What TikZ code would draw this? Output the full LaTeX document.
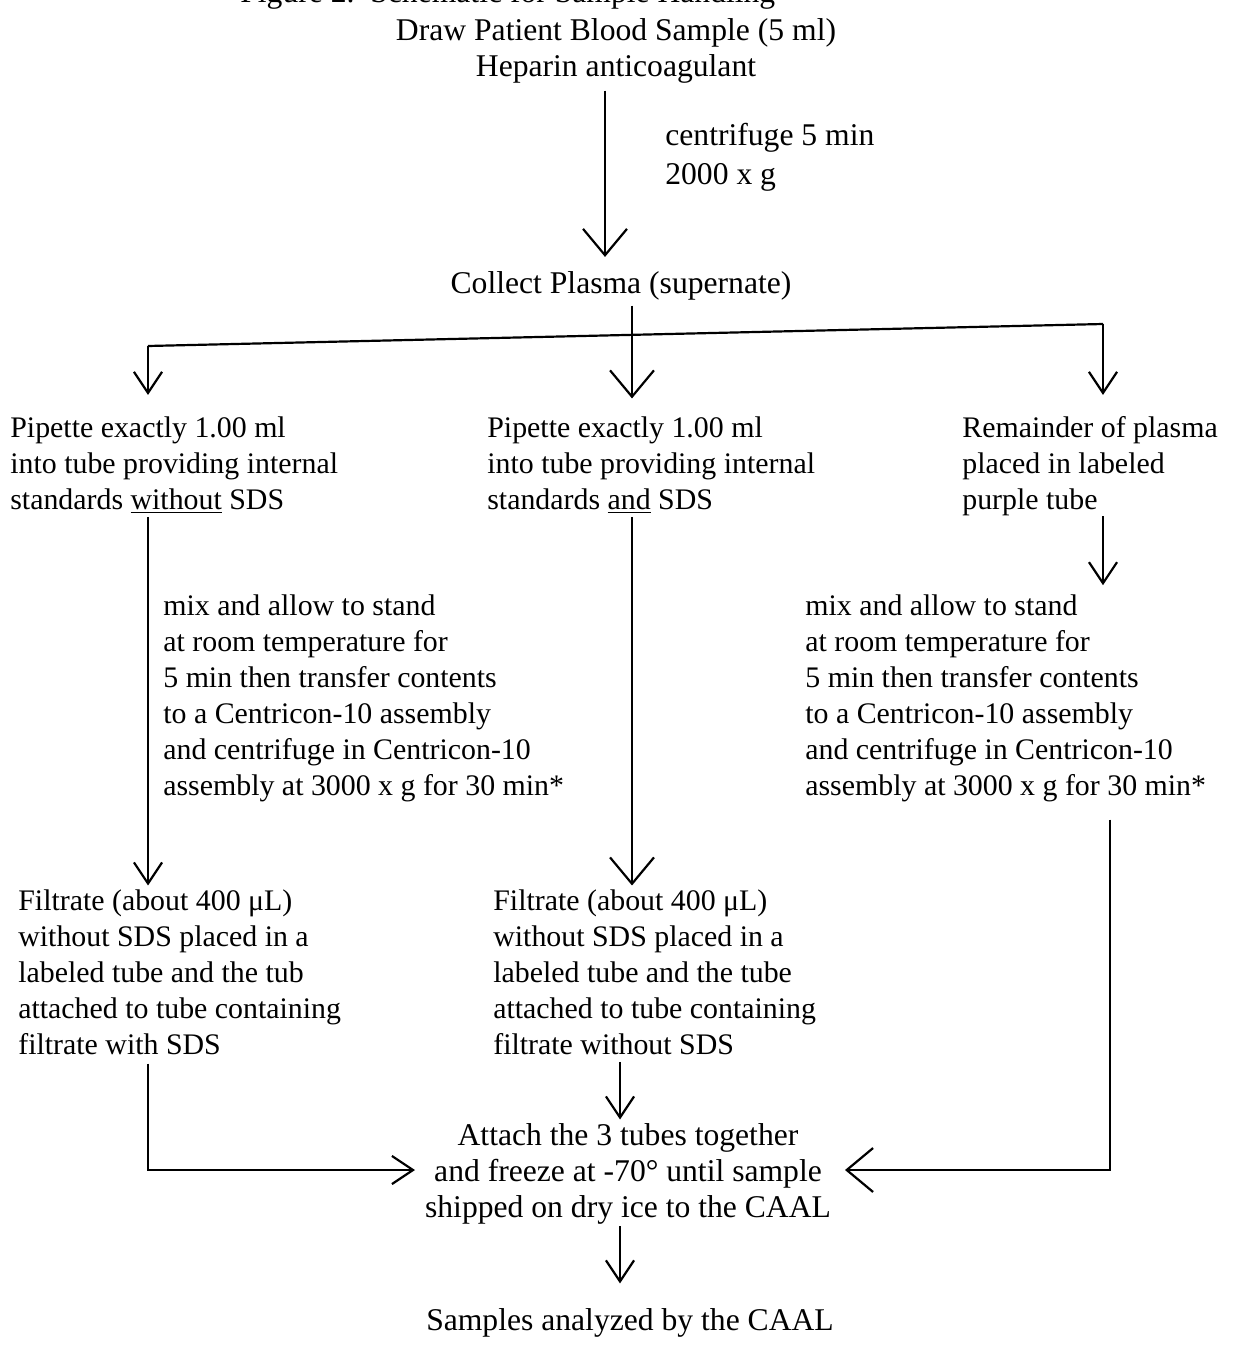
\documentclass[tikz,border=0pt]{standalone}
\usepackage{fontspec}
\setmainfont{Liberation Serif}
\usetikzlibrary{arrows.meta}
\begin{document}
\begin{tikzpicture}[x=0.02cm,y=-0.02cm,
  txt/.style={inner sep=0pt,font=\fontsize{17}{20.5}\selectfont},
  btxt/.style={inner sep=0pt,font=\fontsize{18}{20.5}\selectfont},
  lft/.style={txt,align=left,anchor=north west},
  ctr/.style={btxt,align=center,anchor=north},
  conn/.style={line width=1.25pt},
  big/.style={conn,-{Straight Barb[length=15pt,width=25pt,line width=1.25pt]}},
  sml/.style={conn,-{Straight Barb[length=12pt,width=16pt,line width=1.25pt]}}]
\clip (0,0) rectangle (1253,1348);
% texts
\node[btxt,anchor=base west] (title) at (240,3) {Figure 2.\ \ Schematic for Sample Handling};
\node[ctr] (draw) at (616,18) {Draw Patient Blood Sample (5 ml)\\Heparin anticoagulant};
\node[btxt,align=left,anchor=north west,font=\fontsize{18}{22}\selectfont] (cent) at (665,123) {centrifuge 5 min\\2000 x g};
\node[ctr] (collect) at (621,271) {Collect Plasma (supernate)};
\node[lft] (p1) at (10,416) {Pipette exactly 1.00 ml\\into tube providing internal\\standards \underline{without} SDS};
\node[lft] (p2) at (487,416) {Pipette exactly 1.00 ml\\into tube providing internal\\standards \underline{and} SDS};
\node[lft] (p3) at (962,416) {Remainder of plasma\\placed in labeled\\purple tube};
\node[lft] (m1) at (163,594) {mix and allow to stand\\at room temperature for\\5 min then transfer contents\\to a Centricon-10 assembly\\and centrifuge in Centricon-10\\assembly at 3000 x g for 30 min*};
\node[lft] (m3) at (805,594) {mix and allow to stand\\at room temperature for\\5 min then transfer contents\\to a Centricon-10 assembly\\and centrifuge in Centricon-10\\assembly at 3000 x g for 30 min*};
\node[lft] (f1) at (18,889) {Filtrate (about 400 μL)\\without SDS placed in a\\labeled tube and the tub\\attached to tube containing\\filtrate with SDS};
\node[lft] (f2) at (493,889) {Filtrate (about 400 μL)\\without SDS placed in a\\labeled tube and the tube\\attached to tube containing\\filtrate without SDS};
\node[ctr] (attach) at (628,1123) {Attach the 3 tubes together\\and freeze at -70° until sample\\shipped on dry ice to the CAAL};
\node[ctr] (samples) at (630,1308) {Samples analyzed by the CAAL};
% columns / junctions
\coordinate (xA) at (605,0);
\coordinate (xM) at (632,0);
\coordinate (bl) at (148,346);
\coordinate (br) at (1103,324);
\coordinate (xR) at (1110,0);
\coordinate (jR) at (1110,1170);
\coordinate (jL) at (148,1170);
\coordinate (tR) at (845,1170);
\coordinate (tL) at (415,1170);
\coordinate (xB) at (620,0);
% connectors
\draw[big,shorten <=4pt,shorten >=8pt] (draw.south -| xA) -- (collect.north -| xA);
\draw[big,shorten <=3pt,shorten >=10pt] (collect.south -| xM) -- (p2.north -| xM);
\draw[conn] (bl) -- (br);
\draw[sml,shorten >=12pt] (bl) -- (p1.north -| bl);
\draw[sml,shorten >=12pt] (br) -- (p3.north -| br);
\draw[sml,shorten <=2pt,shorten >=2pt] (p1.south -| bl) -- (f1.north -| bl);
\draw[big,shorten <=2pt,shorten >=2pt] (p2.south -| xM) -- (f2.north -| xM);
\draw[sml,shorten >=5pt] (p3.south -| br) -- (m3.north -| br);
\draw[big,shorten <=10pt] (m3.south -| xR) -- (jR) -- (tR);
\draw[sml,shorten <=5pt] (f1.south -| jL) -- (jL) -- (tL);
\draw[sml,shorten <=4pt,shorten >=2pt] (f2.south -| xB) -- (attach.north -| xB);
\draw[sml,shorten <=1pt,shorten >=14pt] (attach.south -| xB) -- (samples.north -| xB);
\end{tikzpicture}
\end{document}
